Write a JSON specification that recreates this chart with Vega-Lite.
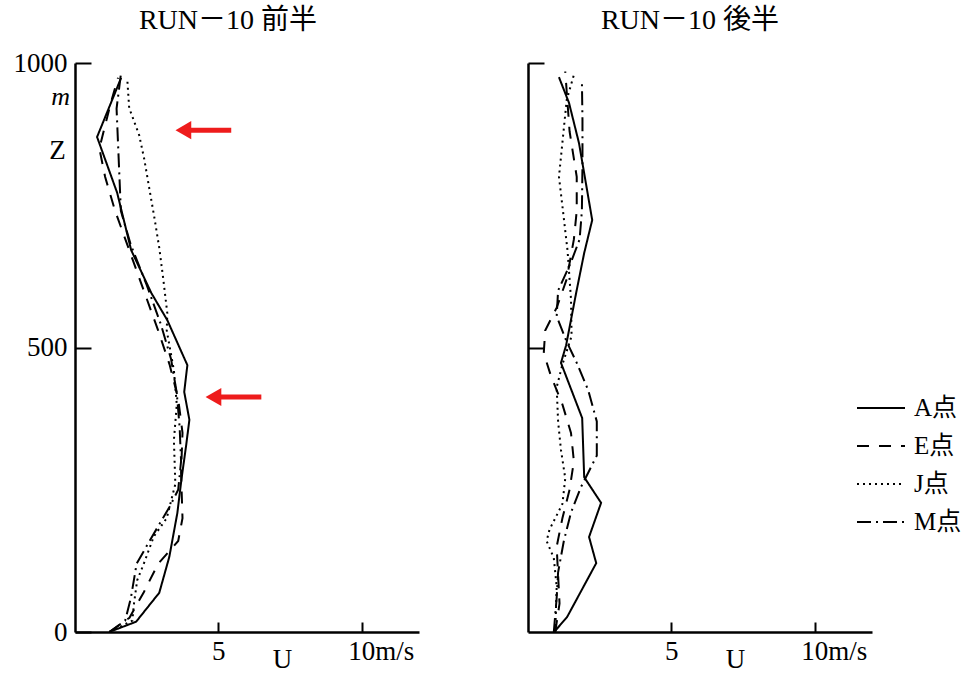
{
  "$schema": "https://vega.github.io/schema/vega-lite/v6.json",
  "background": "white",
  "padding": {"left": 13, "top": 7, "right": 5, "bottom": 5},
  "config": {
    "font": "Liberation Serif, Noto Sans CJK JP",
    "view": {"stroke": null},
    "axis": {
      "domainColor": "black", "domainWidth": 2.5, "tickColor": "black", "tickWidth": 2,
      "grid": false, "labelFont": "Liberation Serif", "labelFontSize": 27, "labelColor": "black",
      "titleFont": "Liberation Serif", "titleFontSize": 27, "titleFontWeight": "normal", "titleColor": "black"
    },
    "title": {"font": "Liberation Serif, Noto Sans CJK JP", "fontSize": 28, "fontWeight": "normal", "color": "black"}
  },
  "datasets": {
    "first": [
      {"station": "A点", "z": 0, "u": 1.19}, {"station": "A点", "z": 18, "u": 2.13}, {"station": "A点", "z": 69, "u": 2.94},
      {"station": "A点", "z": 132, "u": 3.29}, {"station": "A点", "z": 209, "u": 3.57}, {"station": "A点", "z": 267, "u": 3.71},
      {"station": "A点", "z": 329, "u": 3.88}, {"station": "A点", "z": 373, "u": 3.99}, {"station": "A点", "z": 422, "u": 3.81},
      {"station": "A点", "z": 469, "u": 3.92}, {"station": "A点", "z": 548, "u": 3.22}, {"station": "A点", "z": 596, "u": 2.66},
      {"station": "A点", "z": 671, "u": 1.96}, {"station": "A点", "z": 772, "u": 1.47}, {"station": "A点", "z": 870, "u": 0.77},
      {"station": "A点", "z": 974, "u": 1.61},
      {"station": "E点", "z": 0, "u": 1.2}, {"station": "E点", "z": 25, "u": 1.9}, {"station": "E点", "z": 70, "u": 2.4},
      {"station": "E点", "z": 120, "u": 2.9}, {"station": "E点", "z": 160, "u": 3.6}, {"station": "E点", "z": 200, "u": 3.75},
      {"station": "E点", "z": 280, "u": 3.7}, {"station": "E点", "z": 350, "u": 3.75}, {"station": "E点", "z": 410, "u": 3.6},
      {"station": "E点", "z": 470, "u": 3.3}, {"station": "E点", "z": 530, "u": 2.9}, {"station": "E点", "z": 600, "u": 2.4},
      {"station": "E点", "z": 670, "u": 1.9}, {"station": "E点", "z": 740, "u": 1.4}, {"station": "E点", "z": 800, "u": 1.05},
      {"station": "E点", "z": 850, "u": 0.85}, {"station": "E点", "z": 930, "u": 1.25}, {"station": "E点", "z": 974, "u": 1.5},
      {"station": "J点", "z": 0, "u": 1.2}, {"station": "J点", "z": 20, "u": 2.0}, {"station": "J点", "z": 51, "u": 2.06},
      {"station": "J点", "z": 91, "u": 2.17}, {"station": "J点", "z": 120, "u": 2.4}, {"station": "J点", "z": 168, "u": 2.75},
      {"station": "J点", "z": 200, "u": 3.2}, {"station": "J点", "z": 260, "u": 3.5}, {"station": "J点", "z": 337, "u": 3.45},
      {"station": "J点", "z": 400, "u": 3.55}, {"station": "J点", "z": 460, "u": 3.45}, {"station": "J点", "z": 530, "u": 3.2},
      {"station": "J点", "z": 560, "u": 3.22}, {"station": "J点", "z": 620, "u": 3.08}, {"station": "J点", "z": 675, "u": 2.94},
      {"station": "J点", "z": 728, "u": 2.77}, {"station": "J点", "z": 780, "u": 2.59}, {"station": "J点", "z": 830, "u": 2.42},
      {"station": "J点", "z": 873, "u": 2.24}, {"station": "J点", "z": 921, "u": 1.89}, {"station": "J点", "z": 974, "u": 1.82},
      {"station": "M点", "z": 0, "u": 1.2}, {"station": "M点", "z": 20, "u": 1.75}, {"station": "M点", "z": 60, "u": 1.95},
      {"station": "M点", "z": 120, "u": 2.15}, {"station": "M点", "z": 160, "u": 2.6}, {"station": "M点", "z": 220, "u": 3.3},
      {"station": "M点", "z": 250, "u": 3.6}, {"station": "M点", "z": 300, "u": 3.7}, {"station": "M点", "z": 360, "u": 3.65},
      {"station": "M点", "z": 420, "u": 3.55}, {"station": "M点", "z": 480, "u": 3.35}, {"station": "M点", "z": 540, "u": 3.0},
      {"station": "M点", "z": 610, "u": 2.5}, {"station": "M点", "z": 680, "u": 1.95}, {"station": "M点", "z": 740, "u": 1.6},
      {"station": "M点", "z": 800, "u": 1.55}, {"station": "M点", "z": 860, "u": 1.5}, {"station": "M点", "z": 920, "u": 1.45},
      {"station": "M点", "z": 980, "u": 1.6}
    ],
    "second": [
      {"station": "A点", "z": 0, "u": 0.91}, {"station": "A点", "z": 26, "u": 1.36}, {"station": "A点", "z": 121, "u": 2.38},
      {"station": "A点", "z": 167, "u": 2.13}, {"station": "A点", "z": 227, "u": 2.55}, {"station": "A点", "z": 272, "u": 1.96},
      {"station": "A点", "z": 376, "u": 1.89}, {"station": "A点", "z": 473, "u": 1.15}, {"station": "A点", "z": 504, "u": 1.33},
      {"station": "A点", "z": 596, "u": 1.68}, {"station": "A点", "z": 666, "u": 1.96}, {"station": "A点", "z": 724, "u": 2.24},
      {"station": "A点", "z": 859, "u": 1.78}, {"station": "A点", "z": 930, "u": 1.43}, {"station": "A点", "z": 975, "u": 1.08},
      {"station": "E点", "z": 0, "u": 0.95}, {"station": "E点", "z": 50, "u": 1.1}, {"station": "E点", "z": 100, "u": 1.05},
      {"station": "E点", "z": 150, "u": 1.0}, {"station": "E点", "z": 200, "u": 1.2}, {"station": "E点", "z": 250, "u": 1.45},
      {"station": "E点", "z": 300, "u": 1.6}, {"station": "E点", "z": 350, "u": 1.5}, {"station": "E点", "z": 400, "u": 1.2},
      {"station": "E点", "z": 450, "u": 0.8}, {"station": "E点", "z": 490, "u": 0.55}, {"station": "E点", "z": 530, "u": 0.6},
      {"station": "E点", "z": 570, "u": 1.0}, {"station": "E点", "z": 620, "u": 1.35}, {"station": "E点", "z": 690, "u": 1.6},
      {"station": "E点", "z": 740, "u": 1.7}, {"station": "E点", "z": 800, "u": 1.7}, {"station": "E点", "z": 880, "u": 1.45},
      {"station": "E点", "z": 950, "u": 1.35}, {"station": "E点", "z": 985, "u": 1.3},
      {"station": "J点", "z": 0, "u": 0.95}, {"station": "J点", "z": 80, "u": 1.0}, {"station": "J点", "z": 130, "u": 0.9},
      {"station": "J点", "z": 160, "u": 0.65}, {"station": "J点", "z": 180, "u": 0.75}, {"station": "J点", "z": 225, "u": 1.2},
      {"station": "J点", "z": 270, "u": 1.3}, {"station": "J点", "z": 320, "u": 1.15}, {"station": "J点", "z": 370, "u": 1.05},
      {"station": "J点", "z": 430, "u": 1.0}, {"station": "J点", "z": 470, "u": 1.2}, {"station": "J点", "z": 520, "u": 1.52},
      {"station": "J点", "z": 585, "u": 1.5}, {"station": "J点", "z": 670, "u": 1.38}, {"station": "J点", "z": 740, "u": 1.22},
      {"station": "J点", "z": 800, "u": 1.08}, {"station": "J点", "z": 835, "u": 1.15}, {"station": "J点", "z": 935, "u": 1.35},
      {"station": "J点", "z": 979, "u": 1.6},
      {"station": "M点", "z": 0, "u": 0.9}, {"station": "M点", "z": 60, "u": 1.0}, {"station": "M点", "z": 105, "u": 1.05},
      {"station": "M点", "z": 160, "u": 1.25}, {"station": "M点", "z": 210, "u": 1.5}, {"station": "M点", "z": 255, "u": 1.85},
      {"station": "M点", "z": 280, "u": 2.1}, {"station": "M点", "z": 310, "u": 2.4}, {"station": "M点", "z": 370, "u": 2.4},
      {"station": "M点", "z": 425, "u": 2.1}, {"station": "M点", "z": 473, "u": 1.7}, {"station": "M点", "z": 510, "u": 1.35},
      {"station": "M点", "z": 555, "u": 1.0}, {"station": "M点", "z": 600, "u": 1.05}, {"station": "M点", "z": 650, "u": 1.5},
      {"station": "M点", "z": 690, "u": 1.8}, {"station": "M点", "z": 740, "u": 1.88}, {"station": "M点", "z": 820, "u": 1.9},
      {"station": "M点", "z": 900, "u": 1.9}, {"station": "M点", "z": 970, "u": 1.88}
    ],
    "arrows": [
      {"z": 882, "head": 3.78, "tail": 5.45},
      {"z": 413, "head": 4.83, "tail": 6.5}
    ],
    "unit": [{"z": 940, "u": 0, "text": "m"}]
  },
  "spacing": 109,
  "bounds": "flush",
  "resolve": {"scale": {"strokeDash": "shared"}, "legend": {"strokeDash": "shared"}},
  "hconcat": [
    {
      "width": 344, "height": 569,
      "title": {"text": "RUN－10 前半", "dx": -19, "offset": 14},
      "layer": [
        {
          "data": {"name": "first"},
          "mark": {"type": "line", "stroke": "black", "strokeWidth": 2},
          "encoding": {
            "x": {"field": "u", "type": "quantitative", "scale": {"domain": [0, 12], "nice": false},
              "axis": {"values": [5, 10], "tickSize": -10, "labelPadding": 16, "title": "U", "titleX": 207, "titleY": 14, "titleBaseline": "top",
                "labelExpr": "datum.value == 10 ? '10m/s' : datum.label",
                "labelAlign": {"condition": {"test": "datum.value == 10", "value": "left"}, "value": "center"},
                "labelOffset": {"condition": {"test": "datum.value == 10", "value": -14}, "value": 0}}},
            "y": {"field": "z", "type": "quantitative", "scale": {"domain": [0, 1000], "nice": false},
              "axis": {"values": [0, 500, 1000], "format": "d", "tickSize": -16, "labelPadding": 24, "title": "Z", "titleAngle": 0,
                "titleX": -18, "titleY": 87, "titleAlign": "center", "titleBaseline": "middle"}},
            "strokeDash": {"field": "station", "type": "nominal",
              "scale": {"domain": ["A点", "E点", "J点", "M点"], "range": [[1, 0], [12, 10], [2, 4], [14, 5, 2, 5]]},
              "legend": {"title": null, "orient": "none", "legendX": 781, "legendY": 320, "symbolType": "stroke",
                "symbolSize": 2304, "symbolStrokeWidth": 2, "symbolStrokeColor": "black", "labelFont": "Liberation Serif, Noto Sans CJK JP",
                "labelFontSize": 25, "labelColor": "black", "labelOffset": 8, "rowPadding": -15}},
            "order": {"field": "z", "type": "quantitative"}
          }
        },
        {
          "data": {"name": "unit"},
          "mark": {"type": "text", "fontStyle": "italic", "fontSize": 26, "align": "right", "baseline": "middle", "dx": -5, "font": "Liberation Serif"},
          "encoding": {
            "x": {"field": "u", "type": "quantitative"},
            "y": {"field": "z", "type": "quantitative"},
            "text": {"field": "text"}
          }
        },
        {
          "data": {"name": "arrows"},
          "mark": {"type": "rule", "color": "#ee1c1c", "strokeWidth": 5},
          "encoding": {
            "x": {"field": "head", "type": "quantitative"},
            "x2": {"field": "tail"},
            "y": {"field": "z", "type": "quantitative"}
          }
        },
        {
          "data": {"name": "arrows"},
          "mark": {"type": "point", "shape": "triangle-left", "filled": true, "color": "#ee1c1c", "opacity": 1, "size": 330},
          "encoding": {
            "x": {"field": "head", "type": "quantitative"},
            "y": {"field": "z", "type": "quantitative"}
          }
        }
      ]
    },
    {
      "width": 344, "height": 569,
      "title": {"text": "RUN－10 後半", "dx": -10, "offset": 27},
      "data": {"name": "second"},
      "mark": {"type": "line", "stroke": "black", "strokeWidth": 2},
      "encoding": {
        "x": {"field": "u", "type": "quantitative", "scale": {"domain": [0, 12], "nice": false},
          "axis": {"values": [5, 10], "tickSize": -10, "labelPadding": 16, "title": "U", "titleX": 207, "titleY": 14, "titleBaseline": "top",
            "labelExpr": "datum.value == 10 ? '10m/s' : datum.label",
            "labelAlign": {"condition": {"test": "datum.value == 10", "value": "left"}, "value": "center"},
            "labelOffset": {"condition": {"test": "datum.value == 10", "value": -14}, "value": 0}}},
        "y": {"field": "z", "type": "quantitative", "scale": {"domain": [0, 1000], "nice": false},
          "axis": {"values": [500, 1000], "tickSize": -16, "labels": false, "title": null}},
        "strokeDash": {"field": "station", "type": "nominal",
          "scale": {"domain": ["A点", "E点", "J点", "M点"], "range": [[1, 0], [12, 10], [2, 4], [14, 5, 2, 5]]}},
        "order": {"field": "z", "type": "quantitative"}
      }
    }
  ]
}
